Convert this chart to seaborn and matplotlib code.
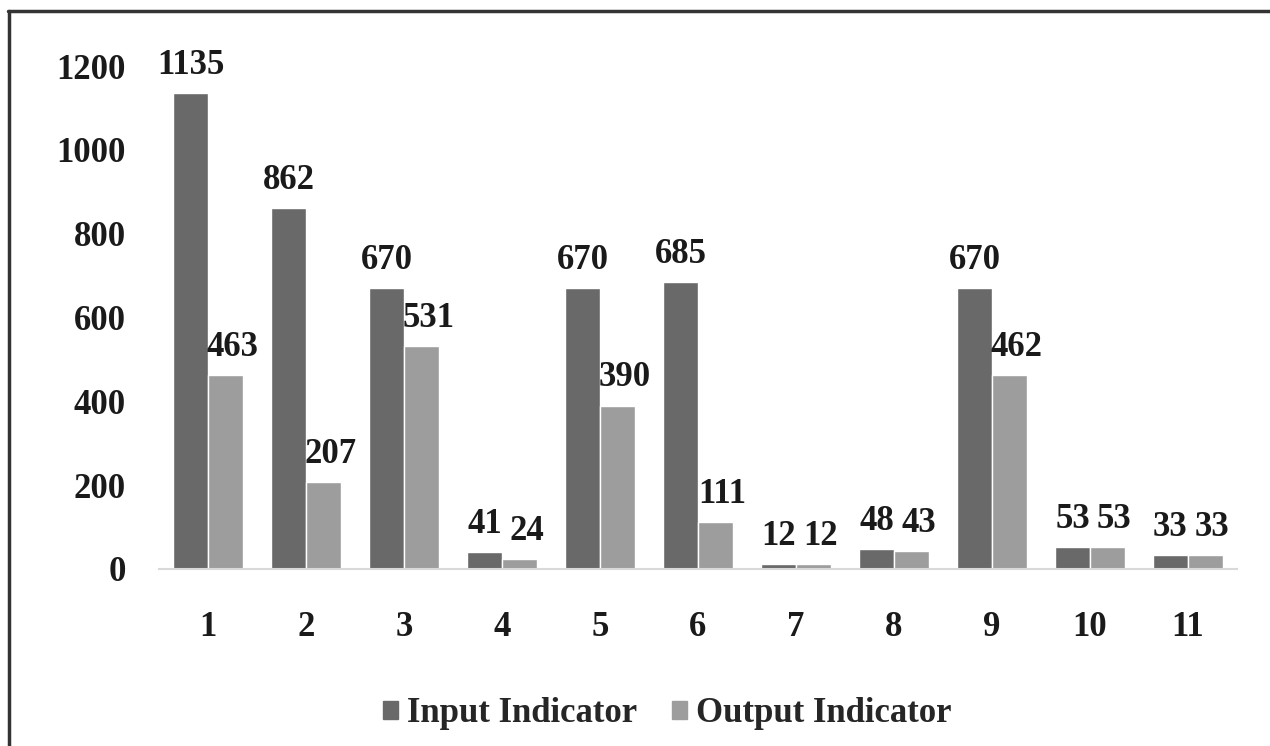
import numpy as np
import pandas as pd
import seaborn as sns
import matplotlib.pyplot as plt
from matplotlib.lines import Line2D

# values
categories = ["1", "2", "3", "4", "5", "6", "7", "8", "9", "10", "11"]
input_vals = [1135, 862, 670, 41, 670, 685, 12, 48, 670, 53, 33]
output_vals = [463, 207, 531, 24, 390, 111, 12, 43, 462, 53, 33]
series = ["Input Indicator", "Output Indicator"]
y_ticks = [0, 200, 400, 600, 800, 1000, 1200]

df = pd.DataFrame({
    "cat": categories * 2,
    "value": input_vals + output_vals,
    "series": [series[0]] * len(categories) + [series[1]] * len(categories),
})

sns.set_style("white")
plt.rcParams["font.family"] = ["Liberation Serif", "DejaVu Serif"]
plt.rcParams["font.weight"] = "bold"

fig = plt.figure(figsize=(12.7, 7.46), dpi=100)
ax = fig.add_axes([0.1252, 0.2373, 0.974 - 0.1252, 0.9115 - 0.2373])

palette = {series[0]: "#696969", series[1]: "#9d9d9d"}
sns.barplot(data=df, x="cat", y="value", hue="series", order=categories,
            hue_order=series, palette=palette, width=0.714, gap=0,
            saturation=1, ax=ax, legend=False)

# value labels; the light series labels sit a bit to the right
for i, cont in enumerate(ax.containers):
    labels = ax.bar_label(cont, padding=8, fontsize=25, fontweight="bold",
                          color="#1a1a1a", clip_on=False)
    if i == 1:
        for lab in labels:
            lab.xyann = (5, 8)

ax.set_ylim(0, 1200)
ax.set_yticks(y_ticks)
ax.set_xlabel("")
ax.set_ylabel("")
ax.tick_params(axis="y", length=0, pad=24, labelsize=25, labelcolor="#1a1a1a")
ax.tick_params(axis="x", length=0, pad=30, labelsize=25, labelcolor="#1a1a1a")
for lab in ax.get_xticklabels() + ax.get_yticklabels():
    lab.set_fontweight("bold")
for s in ["top", "right", "left"]:
    ax.spines[s].set_visible(False)
ax.spines["bottom"].set_color("#d9d9d9")
ax.spines["bottom"].set_linewidth(1.5)
ax.grid(False)

handles = [plt.Rectangle((0, 0), 1, 1, color=palette[s]) for s in series]
fig.legend(handles, series, loc="center", bbox_to_anchor=(667 / 1270, 1 - 714 / 746),
           ncol=2, frameon=False, handlelength=0.45, handleheight=0.45,
           handletextpad=0.25, columnspacing=1.0, prop={"weight": "bold", "size": 25})

# border drawn around the figure (top and left edges visible)
fig.add_artist(Line2D([8 / 1270, 1.0], [1 - 11 / 746, 1 - 11 / 746],
                      transform=fig.transFigure, color="#333333", lw=2.5))
fig.add_artist(Line2D([9 / 1270, 9 / 1270], [0.0, 1 - 11 / 746],
                      transform=fig.transFigure, color="#333333", lw=2.5))

fig.savefig("out.png", dpi=100)
